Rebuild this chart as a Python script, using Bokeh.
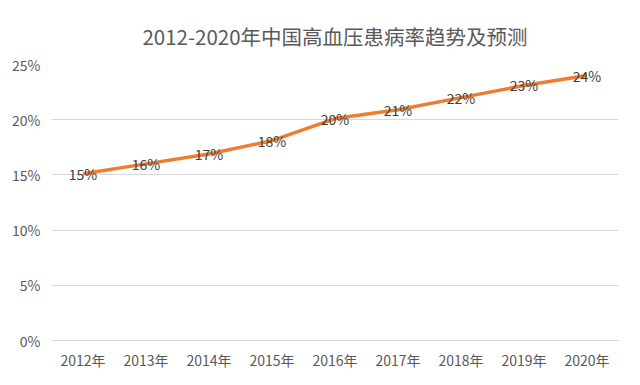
from bokeh.plotting import figure
from bokeh.models import ColumnDataSource, Range1d, FactorRange, PrintfTickFormatter, FixedTicker
from bokeh.core.properties import value
from bokeh.embed import file_html
from bokeh.resources import INLINE

years = ["2012年", "2013年", "2014年", "2015年", "2016年", "2017年", "2018年", "2019年", "2020年"]
rates = [15.1, 16.0, 16.9, 18.1, 20.1, 20.9, 22.0, 23.1, 24.0]
labels = ["15%", "16%", "17%", "18%", "20%", "21%", "22%", "23%", "24%"]
y_ticks = [0, 5, 10, 15, 20, 25]
title_text = "2012-2020年中国高血压患病率趋势及预测"

FONT = "Noto Sans CJK SC"

src = ColumnDataSource(data=dict(year=years, rate=rates, label=labels))

p = figure(x_range=FactorRange(*years, range_padding=0), y_range=Range1d(0, 25),
           width=632, height=377, output_backend="svg", toolbar_location=None,
           title=title_text,
           min_border_left=51, min_border_right=14, min_border_top=64, min_border_bottom=37)

p.title.text_font = FONT
p.title.text_font_size = "20.5px"
p.title.text_font_style = "normal"
p.title.text_color = "#595959"
p.title.align = "center"
p.title.vertical_align = "top"
p.title.standoff = 24

p.outline_line_color = None
p.background_fill_color = "white"
p.border_fill_color = "white"

p.xgrid.grid_line_color = None
p.ygrid.grid_line_color = "#d9d9d9"
p.ygrid.grid_line_width = 1

p.yaxis.ticker = FixedTicker(ticks=y_ticks)
p.yaxis.formatter = PrintfTickFormatter(format="%d%%")
for ax in (p.xaxis[0], p.yaxis[0]):
    ax.major_tick_line_color = None
    ax.minor_tick_line_color = None
    ax.major_tick_out = 0
    ax.major_tick_in = 0
    ax.minor_tick_out = 0
    ax.major_label_text_font = FONT
    ax.major_label_text_font_size = "14px"
    ax.major_label_text_color = "#595959"
p.yaxis.axis_line_color = None
p.xaxis.axis_line_color = "#d9d9d9"
p.yaxis.major_label_standoff = 11
p.xaxis.major_label_standoff = 9

p.line(x="year", y="rate", source=src, line_color="#ED7D31", line_width=3.5)
p.text(x="year", y="rate", text="label", source=src, text_align="center", text_baseline="middle",
       text_font=value(FONT), text_font_size="14px", text_color="#404040")

open("out.html", "w").write(file_html(p, INLINE))
